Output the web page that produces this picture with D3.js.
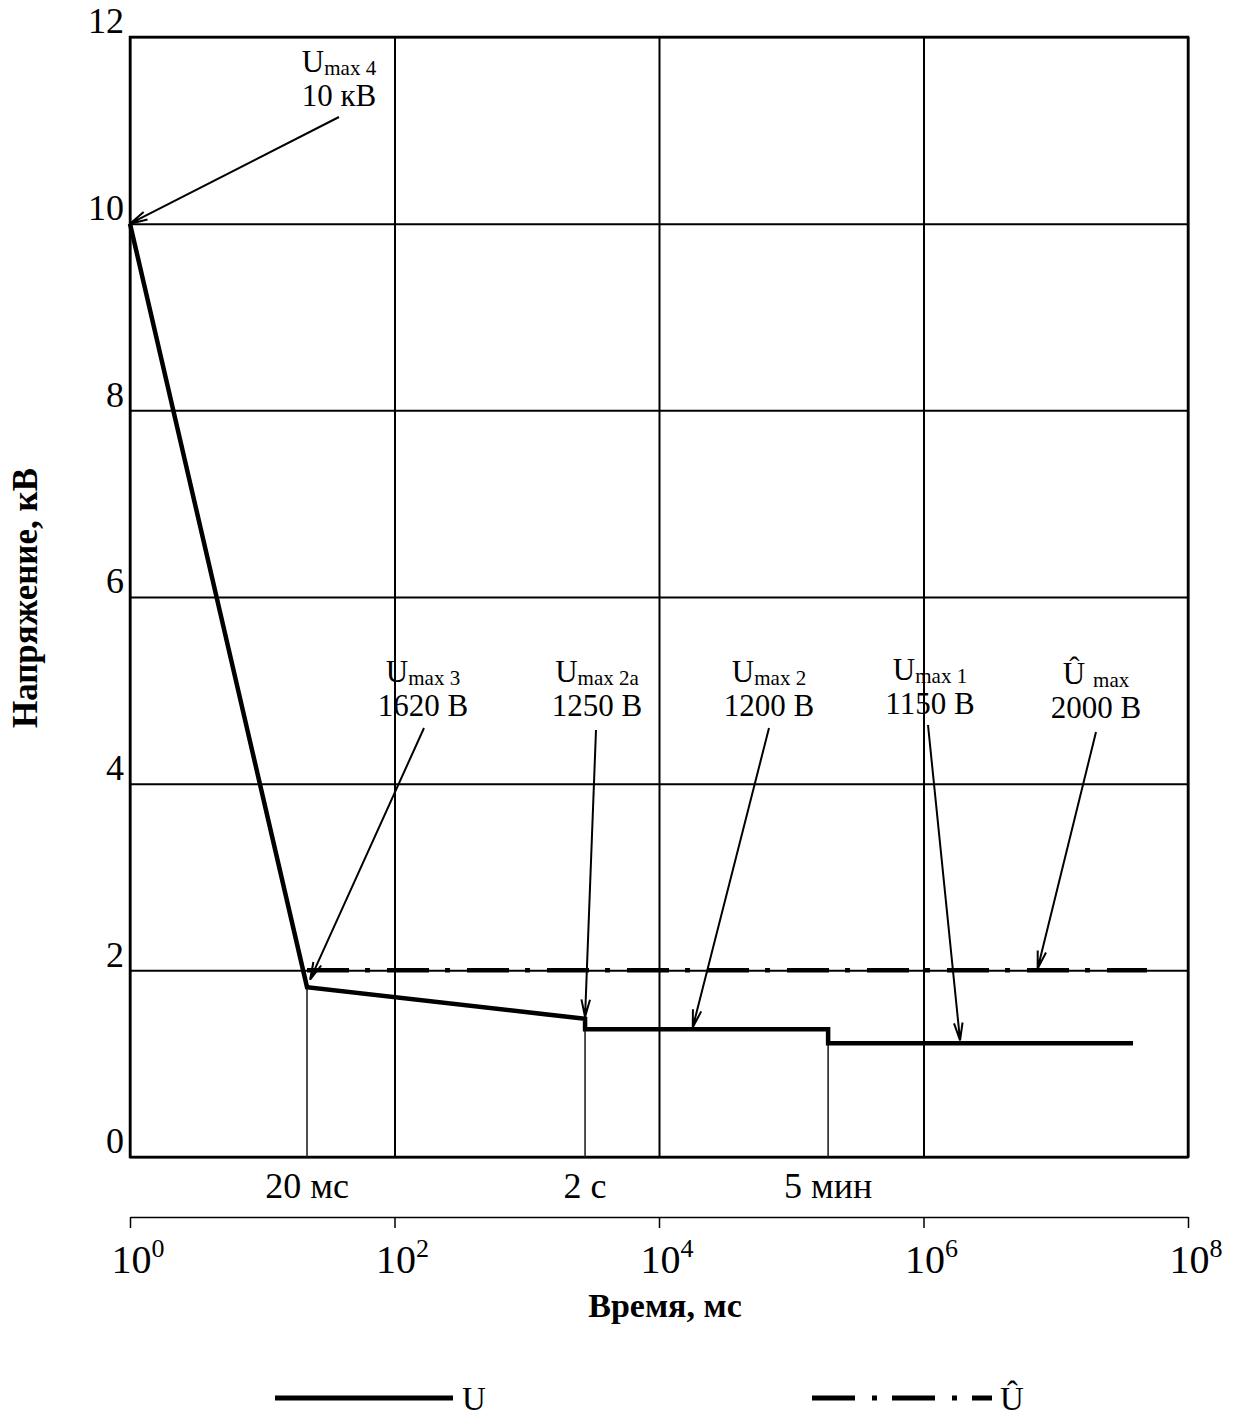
<!DOCTYPE html>
<html><head><meta charset="utf-8">
<script src="https://cdn.jsdelivr.net/npm/d3@7"></script>
<style>
body{margin:0;background:#fff;}
svg{display:block;font-family:"Liberation Serif","Times New Roman",serif;}
</style></head>
<body>
<svg id="chart" width="1235" height="1420"></svg>
<script>
// ---------- data ----------
const uTimesMs   = [1, 21.8, 2760, 2760, 1.9e5, 1.9e5, 3.84e7];
const uVoltageKV = [10, 1.82, 1.48, 1.37, 1.37, 1.22, 1.22];
const uHatTimesMs   = [21.8, 4.9e7];
const uHatVoltageKV = [2.0, 2.0];
const dropTimesMs   = [21.8, 2760, 1.9e5];
const dropVoltageKV = [1.82, 1.48, 1.37];
const markLabels    = ["20 мс", "2 с", "5 мин"];
const yTickValues   = [0, 2, 4, 6, 8, 10, 12];
const xTickValues   = [1, 1e2, 1e4, 1e6, 1e8];
const xTickExponents = ["0", "2", "4", "6", "8"];
// annotation texts and arrow tips (data coordinates)
const annMain  = ["U", "U", "U", "U", "U", "Û"];
const annSub   = ["max 4", "max 3", "max 2a", "max 2", "max 1", "max"];
const annValue = ["10 кВ", "1620 В", "1250 В", "1200 В", "1150 В", "2000 В"];
const annTipT  = [1, 23, 2760, 18000, 1.89e6, 7.3e6];
const annTipV  = [10, 1.9, 1.5, 1.39, 1.25, 2.02];

// ---------- layout ----------
const L = 130, R = 1188, T = 37, B = 1157;
const annLayout = [ // label centre x (px), first baseline (px), arrow tail (px)
  {cx: 339, by: 72, tx: 339, ty: 117},
  {cx: 423, by: 682, tx: 424, ty: 728},
  {cx: 597, by: 682, tx: 596, ty: 730},
  {cx: 769, by: 682, tx: 769, ty: 728},
  {cx: 930, by: 680, tx: 928, ty: 725},
  {cx: 1096, by: 684, tx: 1096, ty: 732}
];

const svg = d3.select("#chart");
const x = d3.scaleLog().domain([1, 1e8]).range([L, R]);
const y = d3.scaleLinear().domain([0, 12]).range([B, T]);

// horizontal grid + y labels
const yAxis = d3.axisLeft(y).tickValues(yTickValues).tickSizeInner(-(R - L)).tickSizeOuter(0).tickPadding(6)
  .tickFormat(d3.format("d"));
const gy = svg.append("g").attr("transform", `translate(${L},0)`).call(yAxis);
gy.select(".domain").remove();
gy.selectAll(".tick line").attr("stroke", "#000").attr("stroke-width", 2);
gy.selectAll(".tick text").attr("font-size", 36).attr("fill", "#000").attr("dy", "-0.12em")
  .attr("font-family", "Liberation Serif");

// vertical grid
const xGrid = d3.axisBottom(x).tickValues(xTickValues).tickSizeInner(-(B - T)).tickSizeOuter(0).tickFormat("");
const gx = svg.append("g").attr("transform", `translate(0,${B})`).call(xGrid);
gx.select(".domain").remove();
gx.selectAll(".tick line").attr("stroke", "#000").attr("stroke-width", 2);

// frame
svg.append("rect").attr("x", L).attr("y", T).attr("width", R - L).attr("height", B - T)
  .attr("fill", "none").attr("stroke", "#000").attr("stroke-width", 2.5);

// drop lines
svg.append("g").selectAll("line").data(dropTimesMs).join("line")
  .attr("x1", d => x(d)).attr("x2", d => x(d))
  .attr("y1", (d, i) => y(dropVoltageKV[i])).attr("y2", B)
  .attr("stroke", "#222").attr("stroke-width", 1.6);

// mark labels under plot
svg.append("g").selectAll("text").data(dropTimesMs).join("text")
  .attr("x", d => x(d)).attr("y", 1198).attr("text-anchor", "middle")
  .attr("font-size", 36).text((d, i) => markLabels[i]);

// U-hat dash-dot line
const line = d3.line().x(d => x(d[0])).y(d => y(d[1]));
svg.append("path").datum(uHatTimesMs.map((t, i) => [t, uHatVoltageKV[i]]))
  .attr("d", line).attr("fill", "none").attr("stroke", "#000").attr("stroke-width", 4.5)
  .attr("stroke-dasharray", "42 16 5 17");

// U line
svg.append("path").datum(uTimesMs.map((t, i) => [t, uVoltageKV[i]]))
  .attr("d", line).attr("fill", "none").attr("stroke", "#000").attr("stroke-width", 4.5)
  .attr("stroke-linejoin", "miter").attr("stroke-linecap", "butt");

// secondary time axis
const xAxis = d3.axisBottom(x).tickValues(xTickValues).tickSizeInner(11).tickSizeOuter(0).tickFormat("");
const ga = svg.append("g").attr("transform", "translate(0,1217)").call(xAxis);
ga.select(".domain").attr("stroke", "#000").attr("stroke-width", 1.5);
ga.selectAll(".tick line").attr("stroke", "#000").attr("stroke-width", 1.5);
const tl = ga.selectAll(".tick").append("text").attr("x", -19).attr("y", 56)
  .attr("text-anchor", "start").attr("fill", "#000").attr("font-size", 40)
  .attr("font-family", "Liberation Serif");
tl.append("tspan").text("10");
tl.append("tspan").attr("dy", -16).attr("font-size", 26).text((d, i) => xTickExponents[i]);

// axis titles
svg.append("text").attr("x", 665).attr("y", 1317).attr("text-anchor", "middle")
  .attr("font-size", 34).attr("font-weight", "bold").text("Время, мс");
svg.append("text").attr("transform", "translate(37,598) rotate(-90)").attr("text-anchor", "middle")
  .attr("font-size", 35).attr("font-weight", "bold").text("Напряжение, кВ");

// annotations
const ann = svg.append("g");
annLayout.forEach((a, i) => {
  const t1 = ann.append("text").attr("x", a.cx).attr("y", a.by).attr("text-anchor", "middle").attr("font-size", 31);
  t1.append("tspan").text(annMain[i]);
  t1.append("tspan").attr("dy", 3).attr("dx", i === 5 ? 8 : 0).attr("font-size", 21).text(annSub[i]);
  ann.append("text").attr("x", a.cx).attr("y", a.by + 34).attr("text-anchor", "middle").attr("font-size", 31)
    .text(annValue[i]);
  const px = x(annTipT[i]), py = y(annTipV[i]);
  const ang = Math.atan2(py - a.ty, px - a.tx);
  const hl = 18, ha = 0.24;
  ann.append("path")
    .attr("d", `M${a.tx},${a.ty}L${px},${py}` +
      `M${px - hl * Math.cos(ang - ha)},${py - hl * Math.sin(ang - ha)}L${px},${py}` +
      `L${px - hl * Math.cos(ang + ha)},${py - hl * Math.sin(ang + ha)}`)
    .attr("fill", "none").attr("stroke", "#000").attr("stroke-width", 2);
});

// legend
const lg = svg.append("g");
lg.append("line").attr("x1", 275).attr("x2", 453).attr("y1", 1398).attr("y2", 1398)
  .attr("stroke", "#000").attr("stroke-width", 5);
lg.append("text").attr("x", 462).attr("y", 1410).attr("font-size", 33).text("U");
lg.append("line").attr("x1", 812).attr("x2", 992).attr("y1", 1398).attr("y2", 1398)
  .attr("stroke", "#000").attr("stroke-width", 5).attr("stroke-dasharray", "43 17 5 15");
lg.append("text").attr("x", 1000).attr("y", 1410).attr("font-size", 33).text("Û");
</script>
</body></html>
